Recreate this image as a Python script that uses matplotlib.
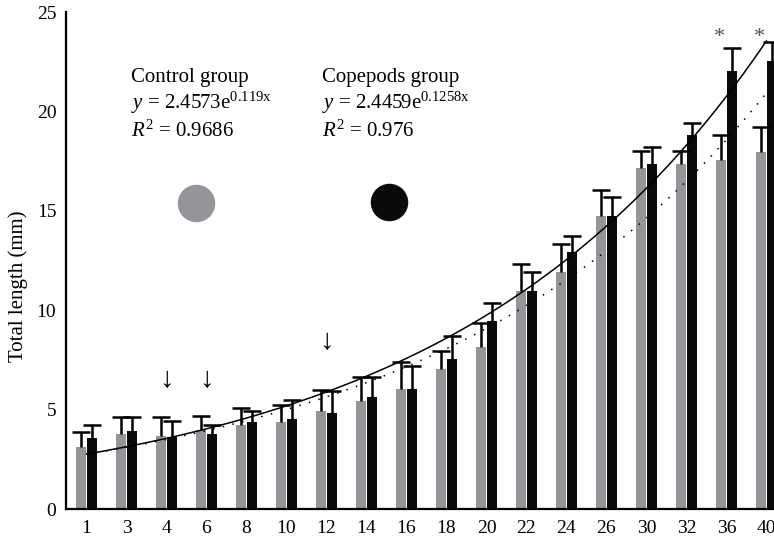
import numpy as np
import matplotlib
matplotlib.use("Agg")
import matplotlib.pyplot as plt

plt.rcParams['font.family'] = ['Liberation Serif', 'DejaVu Serif']
plt.rcParams['mathtext.fontset'] = 'custom'
plt.rcParams['mathtext.rm'] = 'Liberation Serif'
plt.rcParams['mathtext.it'] = 'Liberation Serif:italic'

# ---------- data ----------
days = ['1', '3', '4', '6', '8', '10', '12', '14', '16', '18',
        '20', '22', '24', '26', '30', '32', '36', '40']

control_mean = [3.14, 3.78, 3.69, 3.98, 4.25, 4.37, 4.94, 5.45, 6.05, 7.07,
                8.15, 10.95, 11.95, 14.74, 17.15, 17.35, 17.54, 17.94]
control_sd = [0.77, 0.88, 0.97, 0.73, 0.84, 0.85, 1.08, 1.18, 1.38, 0.87,
              1.23, 1.36, 1.37, 1.31, 0.87, 0.67, 1.28, 1.29]

copepod_mean = [3.57, 3.96, 3.64, 3.78, 4.37, 4.55, 4.85, 5.67, 6.05, 7.55,
                9.45, 10.95, 12.93, 14.74, 17.34, 18.84, 22.03, 22.53]
copepod_sd = [0.68, 0.70, 0.78, 0.47, 0.58, 0.97, 1.08, 0.96, 1.17, 1.18,
              0.91, 0.96, 0.79, 0.94, 0.88, 0.57, 1.16, 0.97]

# exponential fits y = a * exp(b * x), x = sampling number (1..18)
control_fit = (2.4573, 0.119)
copepod_fit = (2.4459, 0.1258)

arrow_days = ['4', '6', '12']
arrow_y = [6.5, 6.5, 8.4]
star_days = ['36', '40']

GRAY = '#939598'
BLACK = '#0a0a0a'

fig = plt.figure(figsize=(7.74, 5.39), dpi=100)
ax = fig.add_axes([0.0853, 0.0551, 0.9147, 0.9226])

x = np.arange(len(days))
w = 0.26
off = 0.14

ax.bar(x - off, control_mean, width=w, color=GRAY, edgecolor='none', zorder=2)
ax.bar(x + off, copepod_mean, width=w, color=BLACK, edgecolor='none', zorder=2)

# upper-only error bars
err_kw = dict(fmt='none', ecolor='black', elinewidth=1.8, capsize=6.5,
              capthick=1.8, zorder=3)
for pos, m, sd in [(x - off, control_mean, control_sd), (x + off, copepod_mean, copepod_sd)]:
    eb = ax.errorbar(pos, m, yerr=[np.zeros(len(days)), sd], **err_kw)
    eb[1][0].set_visible(False)

# trend lines
xs = np.linspace(1, len(days), 300)
ax.plot(xs - 1, control_fit[0] * np.exp(control_fit[1] * xs), color='black',
        lw=1.1, linestyle=(0, (1, 5.5)), zorder=4)
ax.plot(xs - 1, copepod_fit[0] * np.exp(copepod_fit[1] * xs), color='black',
        lw=1.1, zorder=4)

# arrows and significance marks
for d, yy in zip(arrow_days, arrow_y):
    ax.text(days.index(d), yy, '\u2193', ha='center', va='center', fontsize=21)
for d in star_days:
    ax.text(days.index(d) - 0.18, 23.7, '*', ha='center', va='center',
            fontsize=16, color='#555555')

ax.set_xlim(-0.5125, 17.19)
ax.set_ylim(0, 25)
ax.set_yticks([0, 5, 10, 15, 20, 25])
ax.set_xticks(x)
ax.set_xticklabels(days)
ax.tick_params(axis='both', length=0, labelsize=14)
ax.tick_params(axis='y', pad=7)
ax.tick_params(axis='x', pad=8)

for s in ['top', 'right']:
    ax.spines[s].set_visible(False)
for s in ['left', 'bottom']:
    ax.spines[s].set_linewidth(1.6)
    ax.spines[s].set_color('black')

ax.set_ylabel('Total length (mm)', fontsize=15)
ax.yaxis.set_label_coords(-0.054, 0.449)

# legend block
fs = 15
fig.text(131 / 774, 1 - 82 / 539, 'Control group', fontsize=fs, va='baseline')
fig.text(131 / 774, 1 - 109 / 539, r'$y$ = 2.4573e$^{\mathrm{0.119x}}$', fontsize=fs, va='baseline')
fig.text(131 / 774, 1 - 137 / 539, r'$R^{2}$ = 0.9686', fontsize=fs, va='baseline')
fig.text(322 / 774, 1 - 82 / 539, 'Copepods group', fontsize=fs, va='baseline')
fig.text(322 / 774, 1 - 109 / 539, r'$y$ = 2.4459e$^{\mathrm{0.1258x}}$', fontsize=fs, va='baseline')
fig.text(322 / 774, 1 - 137 / 539, r'$R^{2}$ = 0.976', fontsize=fs, va='baseline')

ax.plot([0.1832], [0.6165], 'o', ms=27, color=GRAY, mec='none', transform=ax.transAxes, clip_on=False)
ax.plot([0.4562], [0.6185], 'o', ms=27, color=BLACK, mec='none', transform=ax.transAxes, clip_on=False)

fig.savefig('out.png', dpi=100)
